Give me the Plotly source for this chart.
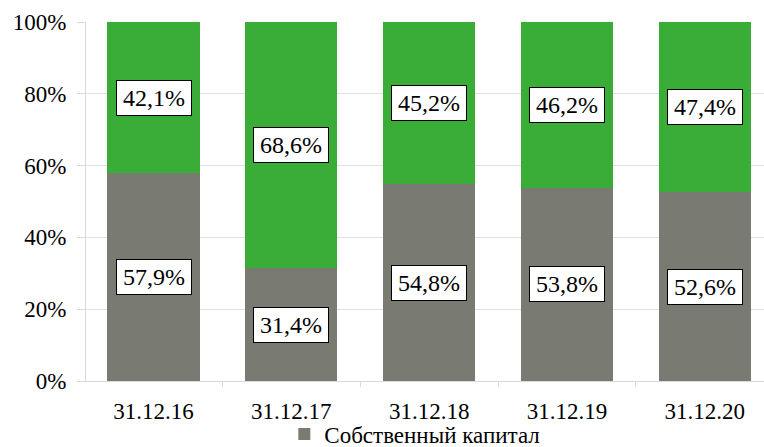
import plotly.graph_objects as go

categories = ["31.12.16", "31.12.17", "31.12.18", "31.12.19", "31.12.20"]
own_capital = [57.9, 31.4, 54.8, 53.8, 52.6]
borrowed_capital = [42.1, 68.6, 45.2, 46.2, 47.4]
labels_own = ["57,9%", "31,4%", "54,8%", "53,8%", "52,6%"]
labels_borrowed = ["42,1%", "68,6%", "45,2%", "46,2%", "47,4%"]
y_ticks = [0, 20, 40, 60, 80, 100]
y_tick_text = ["0%", "20%", "40%", "60%", "80%", "100%"]

FONT = "Liberation Serif"
GREY = "#797A72"
GREEN = "#3AAD38"

fig = go.Figure()
fig.add_trace(go.Bar(x=categories, y=own_capital, name="Собственный капитал",
                     marker=dict(color=GREY, line=dict(width=0))))
fig.add_trace(go.Bar(x=categories, y=borrowed_capital, name="Заемный капитал",
                     marker=dict(color=GREEN, line=dict(width=0)), showlegend=False))

annotations = []
for c, a, b, la, lb in zip(categories, own_capital, borrowed_capital, labels_own, labels_borrowed):
    for yv, txt in ((a / 2, la), (a + b / 2, lb)):
        annotations.append(dict(x=c, y=yv, xref="x", yref="y", text=txt, showarrow=False,
                                font=dict(family=FONT, size=24, color="black"),
                                bgcolor="white", bordercolor="black", borderwidth=1,
                                borderpad=4, width=66, height=26))

fig.update_layout(
    width=764, height=447,
    margin=dict(l=86, r=0, t=22, b=66, autoexpand=False),
    barmode="stack", bargap=0.33,
    plot_bgcolor="white", paper_bgcolor="white",
    font=dict(family=FONT, size=23, color="black"),
    annotations=annotations,
    showlegend=True,
    legend=dict(orientation="h", x=0.485, xanchor="center", y=-0.088, yanchor="top",
                bgcolor="rgba(0,0,0,0)", font=dict(family=FONT, size=23),
                itemwidth=30, traceorder="normal"),
    xaxis=dict(range=[-0.49, 4.43], showline=True, linecolor="#d9d9d9", linewidth=1,
               ticks="outside", tickson="boundaries", ticklen=5, tickcolor="#d9d9d9",
               showgrid=False, tickfont=dict(family=FONT, size=23), ticklabelstandoff=9,
               automargin=False),
    yaxis=dict(range=[0, 100], tickvals=y_ticks, ticktext=y_tick_text,
               showline=True, linecolor="#d9d9d9", linewidth=1,
               ticks="outside", ticklen=8, tickcolor="#d9d9d9",
               showgrid=True, gridcolor="#e0e0e0", gridwidth=1, zeroline=False,
               tickfont=dict(family=FONT, size=23), ticklabelstandoff=6, automargin=False),
)
fig.write_html("out.html", config={"displayModeBar": False},
               post_script="document.body.style.margin='0';")
